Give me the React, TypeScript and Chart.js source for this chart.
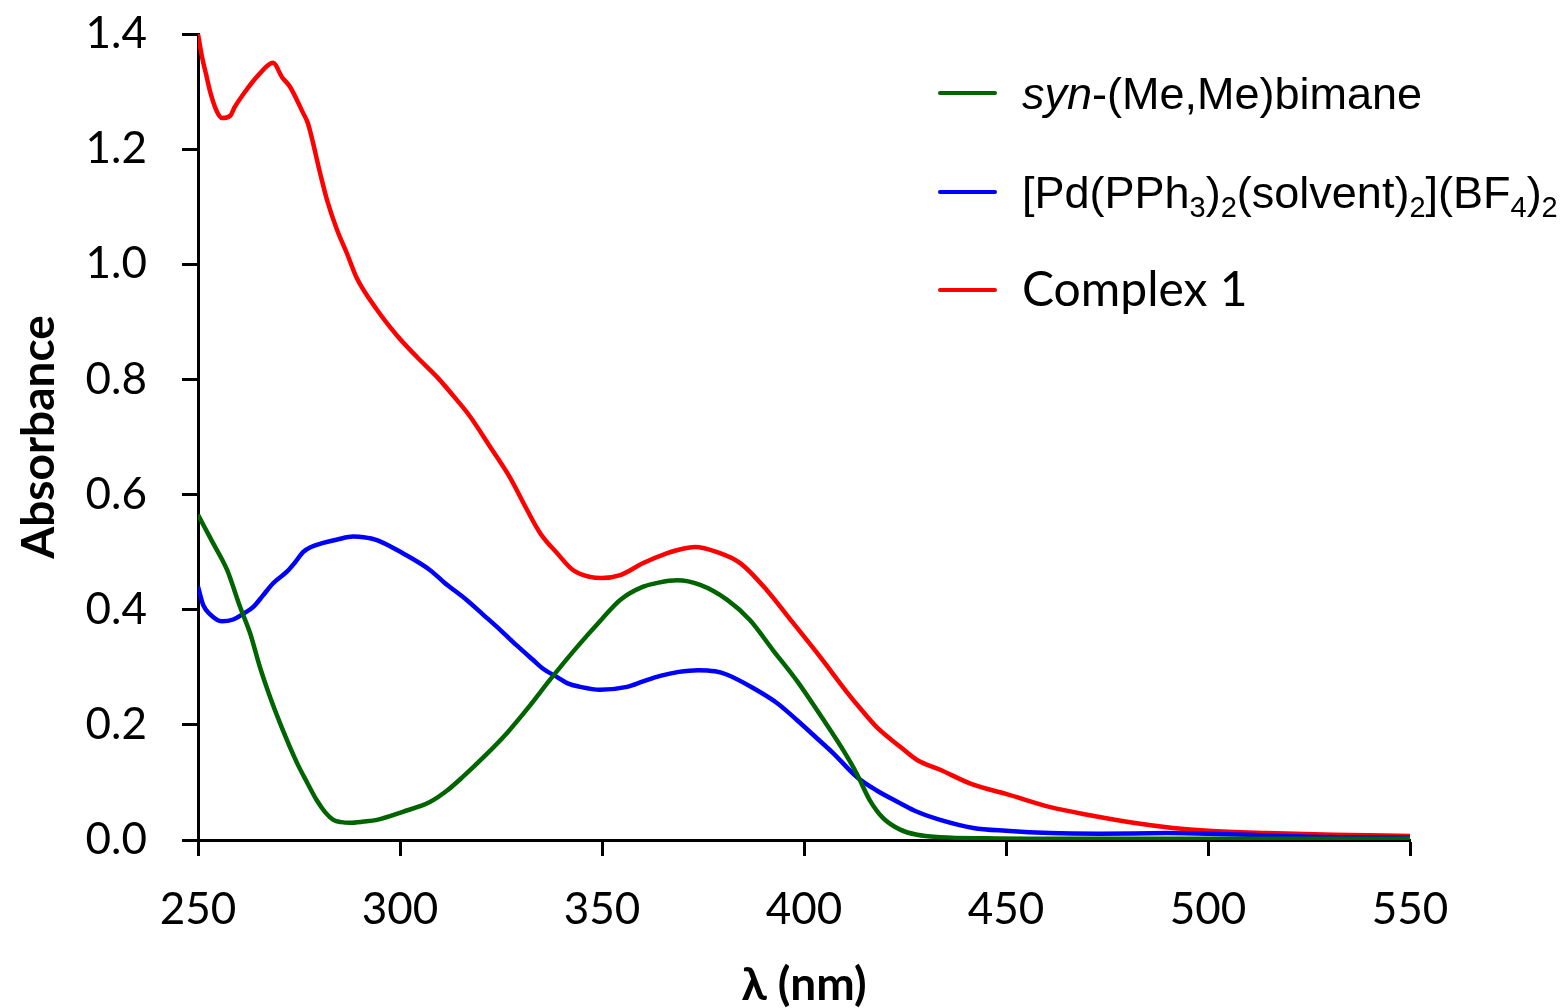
import React, { useEffect, useRef } from "react";
import { Chart, registerables } from "chart.js";

Chart.register(...registerables);

// ---- Data (wavelength in nm, absorbance) ----
const bimaneNm = [250, 251.5, 253.7, 257.2, 260.4, 262.9, 265.3, 267.5, 270.3, 274.5, 277, 279.4, 281.5, 283.5, 285.5, 287.6, 291, 294.3, 300.7, 307.4, 311.5, 315.6, 321, 326.5, 332, 337.1, 343.8, 350, 354.5, 360.2, 364, 368.6, 374.3, 381, 386.6, 392.3, 398.3, 404.7, 409.7, 413, 416.3, 419.6, 423.8, 428, 433.7, 445, 470, 500, 550];
const bimaneAbs = [0.565, 0.545, 0.516, 0.469, 0.405, 0.359, 0.301, 0.255, 0.203, 0.134, 0.1, 0.069, 0.048, 0.035, 0.031, 0.03, 0.032, 0.035, 0.049, 0.066, 0.085, 0.11, 0.146, 0.186, 0.232, 0.278, 0.335, 0.384, 0.417, 0.44, 0.447, 0.451, 0.443, 0.417, 0.382, 0.33, 0.276, 0.21, 0.156, 0.116, 0.069, 0.038, 0.018, 0.009, 0.005, 0.003, 0.002, 0.002, 0.002];

const pdNm = [250, 251.3, 253, 255.9, 258.7, 261, 263.7, 266, 268.6, 272, 274, 276, 278, 281, 284.5, 288.4, 291, 294.3, 300.7, 307.4, 311, 316.5, 320.5, 324.8, 328.9, 332.9, 335.5, 338.9, 341.5, 344.6, 349.5, 356.2, 360, 364.4, 369, 373.8, 378, 381, 387.4, 393.3, 398.3, 403, 407.2, 413, 418, 423.8, 428, 433.7, 441.9, 450, 461, 473, 490, 500, 515, 530, 550];
const pdAbs = [0.44, 0.408, 0.392, 0.38, 0.383, 0.392, 0.405, 0.424, 0.446, 0.466, 0.482, 0.5, 0.509, 0.516, 0.522, 0.527, 0.526, 0.521, 0.498, 0.469, 0.447, 0.417, 0.392, 0.365, 0.338, 0.313, 0.297, 0.283, 0.272, 0.266, 0.261, 0.266, 0.275, 0.285, 0.292, 0.295, 0.293, 0.287, 0.264, 0.238, 0.208, 0.178, 0.151, 0.11, 0.086, 0.064, 0.049, 0.035, 0.021, 0.016, 0.012, 0.011, 0.012, 0.011, 0.008, 0.005, 0.004];

const complexNm = [250, 251, 252, 253, 254.7, 256, 258, 259, 262, 265, 268.6, 270.8, 272.8, 276, 277.2, 280.2, 282, 284.4, 286.8, 289.3, 294.3, 299.3, 304.2, 309.2, 314.1, 317.3, 322.3, 327.2, 331.4, 334.7, 338.9, 342.8, 347, 350, 354.5, 360.2, 366, 370, 373, 378.5, 384.2, 390.8, 397.3, 404, 410.6, 414, 418, 423.8, 428, 433.7, 441.9, 450, 461, 470.8, 481.5, 491.3, 500, 514.6, 531, 550];
const complexAbs = [1.4, 1.36, 1.33, 1.3, 1.265, 1.254, 1.258, 1.272, 1.303, 1.329, 1.35, 1.325, 1.308, 1.263, 1.245, 1.159, 1.11, 1.06, 1.02, 0.976, 0.921, 0.876, 0.839, 0.804, 0.764, 0.736, 0.683, 0.63, 0.574, 0.533, 0.498, 0.469, 0.457, 0.455, 0.46, 0.481, 0.498, 0.506, 0.509, 0.5, 0.481, 0.434, 0.377, 0.318, 0.257, 0.228, 0.196, 0.162, 0.139, 0.122, 0.096, 0.08, 0.057, 0.043, 0.03, 0.021, 0.016, 0.012, 0.009, 0.007];

const seriesColors = ["#006400", "#0000FF", "#FF0000"];
const seriesNames = ["syn-(Me,Me)bimane", "[Pd(PPh3)2(solvent)2](BF4)2", "Complex 1"];

// Rich legend labels: [text, style] with style n = normal, i = italic, s = subscript, c = Calibri-like
const legendRich: [string, string][][] = [
  [["syn", "i"], ["-(Me,Me)bimane", "n"]],
  [["[Pd(PPh", "n"], ["3", "s"], [")", "n"], ["2", "s"], ["(solvent)", "n"], ["2", "s"], ["](BF", "n"], ["4", "s"], [")", "n"], ["2", "s"]],
  [["Complex 1", "c"]],
];

const xTicks = [250, 300, 350, 400, 450, 500, 550];
const yTicks = [0, 0.2, 0.4, 0.6, 0.8, 1.0, 1.2, 1.4];

const xTitle = "λ (nm)";
const yTitle = "Absorbance";

const toPoints = (xs: number[], ys: number[]) => xs.map((x, i) => ({ x, y: ys[i] }));

const legendPlugin = {
  id: "richLegend",
  afterDraw(chart: any) {
    const ctx = chart.ctx;
    const lineX0 = 940;
    const lineX1 = 995;
    const textX = 1022;
    const rows = [93, 192, 290];
    ctx.save();
    legendRich.forEach((segs, i) => {
      const y = rows[i];
      ctx.strokeStyle = seriesColors[i];
      ctx.lineWidth = 4;
      ctx.lineCap = "round";
      ctx.beginPath();
      ctx.moveTo(lineX0, y);
      ctx.lineTo(lineX1, y);
      ctx.stroke();
      let x = textX;
      ctx.fillStyle = "#000";
      ctx.textBaseline = "alphabetic";
      ctx.textAlign = "left";
      const base = y + 16;
      segs.forEach(([t, st]) => {
        if (st === "i") ctx.font = "italic 45px 'Liberation Sans', Arial, sans-serif";
        else if (st === "s") ctx.font = "29px 'Liberation Sans', Arial, sans-serif";
        else if (st === "c") ctx.font = "48px Lato, sans-serif";
        else ctx.font = "45px 'Liberation Sans', Arial, sans-serif";
        const dy = st === "s" ? 9 : 0;
        ctx.fillText(t, x, base + dy);
        x += ctx.measureText(t).width;
      });
    });
    ctx.restore();
  },
};

export default function App() {
  const ref = useRef<HTMLCanvasElement | null>(null);
  useEffect(() => {
    if (!ref.current) return;
    const data = [
      toPoints(bimaneNm, bimaneAbs),
      toPoints(pdNm, pdAbs),
      toPoints(complexNm, complexAbs),
    ];
    const chart = new Chart(ref.current, {
      type: "line",
      data: {
        datasets: data.map((d, i) => ({
          label: seriesNames[i],
          data: d,
          borderColor: seriesColors[i],
          backgroundColor: seriesColors[i],
          borderWidth: 4.5,
          pointRadius: 0,
          fill: false,
          cubicInterpolationMode: "monotone" as const,
        })),
      },
      options: {
        animation: false,
        responsive: false,
        devicePixelRatio: 1,
        layout: { padding: { left: 0, top: 34, right: 157, bottom: 0 } },
        plugins: { legend: { display: false }, tooltip: { enabled: false } },
        scales: {
          x: {
            type: "linear",
            min: 250,
            max: 550,
            afterBuildTicks: (scale: any) => {
              scale.ticks = xTicks.map((v) => ({ value: v }));
            },
            afterFit: (scale: any) => {
              scale.height = 168;
            },
            border: { display: true, color: "#000", width: 3 },
            grid: { drawOnChartArea: false, drawTicks: true, tickLength: 16, tickColor: "#000", tickWidth: 3 },
            ticks: {
              color: "#000",
              padding: 27,
              maxRotation: 0,
              font: { family: "Lato, sans-serif", size: 44 },
              callback: (v: any) => String(v),
            },
            title: {
              display: true,
              text: xTitle,
              color: "#000",
              font: { family: "Lato, sans-serif", size: 46, weight: "bold", lineHeight: 1 },
              padding: { top: 0, bottom: 0 },
            },
          },
          y: {
            type: "linear",
            min: 0,
            max: 1.4,
            afterBuildTicks: (scale: any) => {
              scale.ticks = yTicks.map((v) => ({ value: v }));
            },
            afterFit: (scale: any) => {
              scale.width = 198;
              scale.paddingTop = 0;
              scale.paddingBottom = 0;
            },
            border: { display: true, color: "#000", width: 3 },
            grid: { drawOnChartArea: false, drawTicks: true, tickLength: 16, tickColor: "#000", tickWidth: 3 },
            ticks: {
              color: "#000",
              padding: 35,
              font: { family: "Lato, sans-serif", size: 44 },
              callback: (v: any) => Number(v).toFixed(1),
            },
            title: {
              display: true,
              text: yTitle,
              color: "#000",
              font: { family: "Lato, sans-serif", size: 46, weight: "bold", lineHeight: 1 },
              padding: { top: 16, bottom: 0 },
            },
          },
        },
      },
      plugins: [legendPlugin],
    });
    return () => chart.destroy();
  }, []);
  return (
    <div style={{ position: "fixed", left: 0, top: 0, width: 1567, height: 1008, background: "#fff" }}>
      <canvas ref={ref} width={1567} height={1008} style={{ display: "block" }} />
    </div>
  );
}
